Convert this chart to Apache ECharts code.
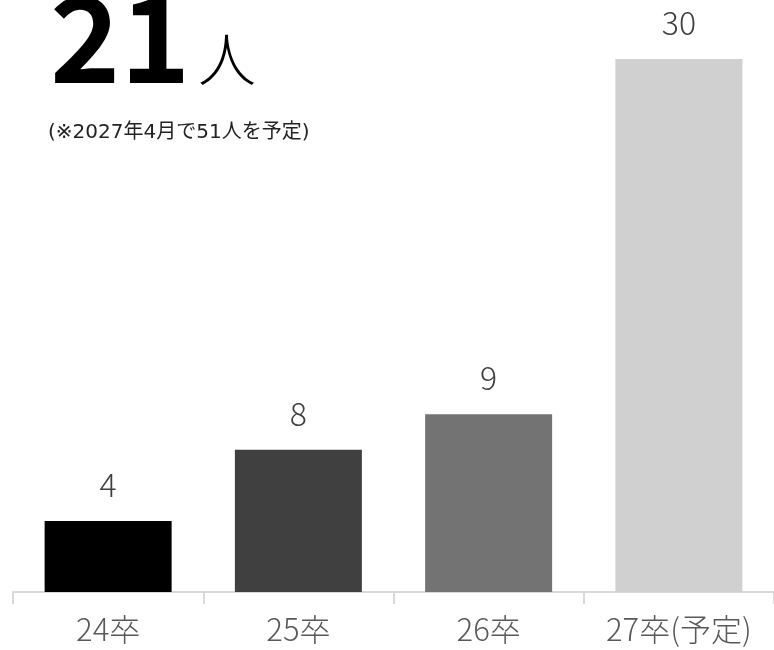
<!DOCTYPE html>
<html>
<head>
<meta charset="utf-8">
<script src="https://cdn.jsdelivr.net/npm/echarts@6/dist/echarts.min.js"></script>
<style>html,body{margin:0;padding:0;background:#fff}#c{width:774px;height:650px}</style>
</head>
<body>
<div id="c"></div>
<script>
var categories = ['24卒', '25卒', '26卒', '27卒(予定)'];
var values = [4, 8, 10, 30];
var valueLabels = ['4', '8', '9', '30'];
var barColors = ['#000000', '#404040', '#737373', '#d0d0d0'];
var headline = '21';
var headlineUnit = '人';
var note = '(※2027年4月で51人を予定)';

var FONT = '"Noto Sans CJK JP", "Noto Sans", sans-serif';
var chart = echarts.init(document.getElementById('c'));
chart.setOption({
  animation: false,
  grid: { left: 13, width: 768, top: 59, bottom: 58, containLabel: false },
  xAxis: {
    type: 'category',
    data: categories,
    axisLine: { lineStyle: { color: '#d9d9d9', width: 2 } },
    axisTick: { show: true, length: 12, lineStyle: { color: '#d9d9d9', width: 2 } },
    axisLabel: { color: '#595959', fontSize: 31, fontFamily: FONT, fontWeight: 300, margin: 22 }
  },
  yAxis: { type: 'value', min: 0, max: 30, show: false, splitLine: { show: false } },
  series: [{
    type: 'bar',
    barWidth: 127,
    data: values.map(function (v, i) { return { value: v, itemStyle: { color: barColors[i] } }; }),
    label: {
      show: true, position: 'top', distance: 20,
      color: '#404040', fontSize: 32, fontFamily: FONT, fontWeight: 300,
      formatter: function (p) { return valueLabels[p.dataIndex]; }
    }
  }],
  graphic: [
    { type: 'text', left: 50, top: -22, style: { text: headline, font: 'bold 119px ' + FONT, fill: '#000' } },
    { type: 'text', left: 198, top: 30, style: { text: headlineUnit, font: '300 58px ' + FONT, fill: '#000' } },
    { type: 'text', left: 48, top: 123, style: { text: note, font: '20px "DejaVu Sans", "Noto Sans CJK JP", sans-serif', fill: '#222' } }
  ]
});
</script>
</body>
</html>
